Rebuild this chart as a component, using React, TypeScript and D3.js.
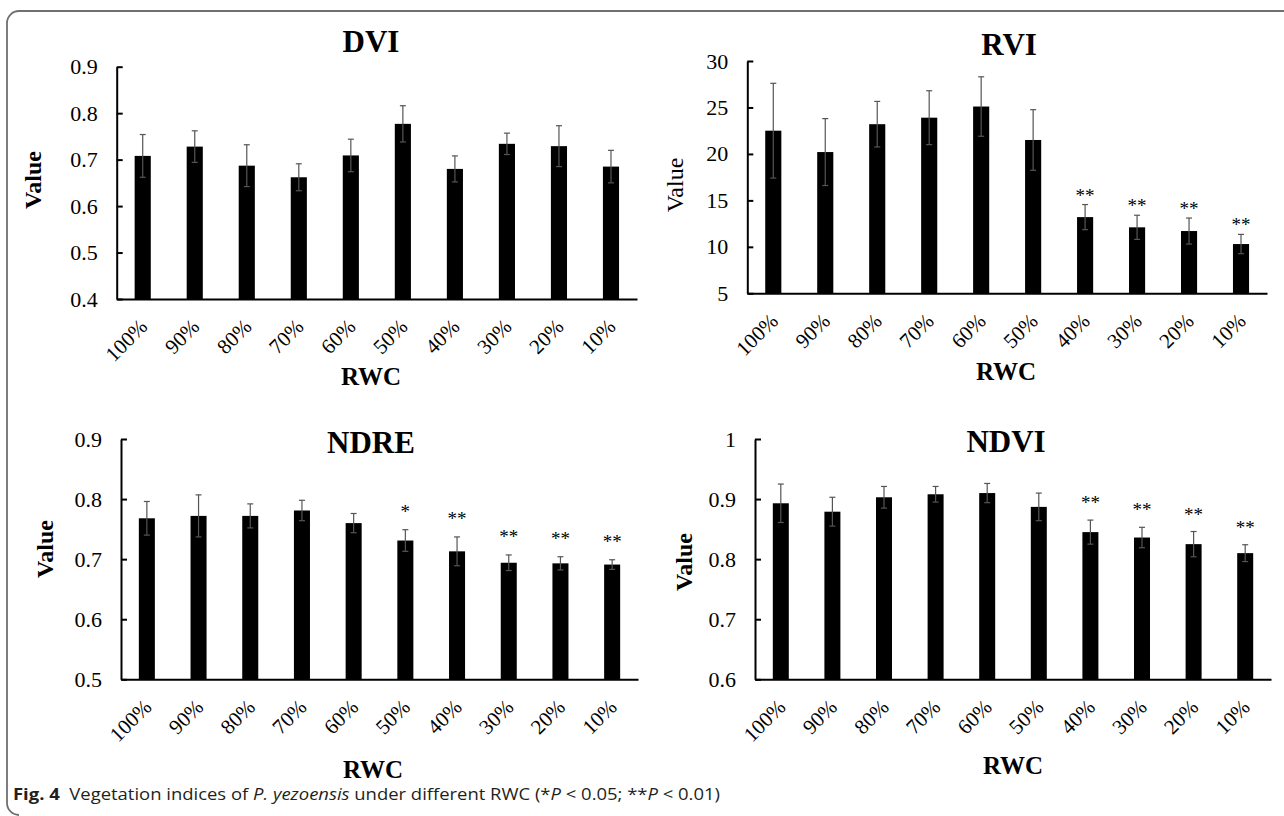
import { useEffect, useRef } from 'react'
import * as d3 from 'd3'

// RWC levels (x categories, shared by all four panels)
const CATEGORIES = ['100%', '90%', '80%', '70%', '60%', '50%', '40%', '30%', '20%', '10%']

// DVI
const DVI_MEAN = [0.708, 0.728, 0.687, 0.662, 0.709, 0.777, 0.680, 0.734, 0.729, 0.685]
const DVI_SE = [0.046, 0.034, 0.045, 0.029, 0.035, 0.039, 0.028, 0.023, 0.044, 0.035]
const DVI_SIG = ['', '', '', '', '', '', '', '', '', '']
const DVI_TICKS = [0.4, 0.5, 0.6, 0.7, 0.8, 0.9]

// RVI
const RVI_MEAN = [22.5, 20.2, 23.2, 23.9, 25.1, 21.5, 13.2, 12.1, 11.7, 10.3]
const RVI_SE = [5.1, 3.6, 2.45, 2.9, 3.2, 3.26, 1.35, 1.3, 1.4, 1.04]
const RVI_SIG = ['', '', '', '', '', '', '**', '**', '**', '**']
const RVI_TICKS = [5, 10, 15, 20, 25, 30]

// NDRE
const NDRE_MEAN = [0.768, 0.772, 0.772, 0.781, 0.760, 0.731, 0.713, 0.694, 0.693, 0.691]
const NDRE_SE = [0.028, 0.035, 0.020, 0.017, 0.016, 0.018, 0.024, 0.013, 0.011, 0.008]
const NDRE_SIG = ['', '', '', '', '', '*', '**', '**', '**', '**']
const NDRE_TICKS = [0.5, 0.6, 0.7, 0.8, 0.9]

// NDVI
const NDVI_MEAN = [0.893, 0.879, 0.903, 0.908, 0.910, 0.887, 0.845, 0.836, 0.825, 0.810]
const NDVI_SE = [0.032, 0.024, 0.018, 0.013, 0.016, 0.023, 0.020, 0.017, 0.021, 0.014]
const NDVI_SIG = ['', '', '', '', '', '', '**', '**', '**', '**']
const NDVI_TICKS = [0.6, 0.7, 0.8, 0.9, 1]

const W = 1284
const H = 816
const SERIF = '"Liberation Serif", "Times New Roman", serif'
const SANS = '"Open Sans", "Noto Sans", sans-serif'

// panel layout (plot box, label placement)
const PANELS = [
  {
    title: 'DVI', mean: DVI_MEAN, se: DVI_SE, sig: DVI_SIG, ticks: DVI_TICKS,
    left: 116.7, right: 637, top: 66.7, bottom: 299,
    titleX: 371, titleY: 52, valueX: 33, valueY: 180, valueBold: true,
    rwcX: 371, rwcY: 385, starGap: 12,
  },
  {
    title: 'RVI', mean: RVI_MEAN, se: RVI_SE, sig: RVI_SIG, ticks: RVI_TICKS,
    left: 747.3, right: 1267, top: 61, bottom: 293.3,
    titleX: 1009, titleY: 55, valueX: 675, valueY: 185, valueBold: false,
    rwcX: 1006, rwcY: 380, starGap: 3,
  },
  {
    title: 'NDRE', mean: NDRE_MEAN, se: NDRE_SE, sig: NDRE_SIG, ticks: NDRE_TICKS,
    left: 121, right: 638, top: 439, bottom: 679.3,
    titleX: 371, titleY: 453, valueX: 45, valueY: 549, valueBold: true,
    rwcX: 373, rwcY: 778, starGap: 12,
  },
  {
    title: 'NDVI', mean: NDVI_MEAN, se: NDVI_SE, sig: NDVI_SIG, ticks: NDVI_TICKS,
    left: 755, right: 1271, top: 439, bottom: 679.3,
    titleX: 1006, titleY: 452, valueX: 684, valueY: 562, valueBold: true,
    rwcX: 1013, rwcY: 774, starGap: 11,
  },
]

export default function App() {
  const svgRef = useRef<SVGSVGElement | null>(null)

  useEffect(() => {
    if (!svgRef.current) return
    const svg = d3.select(svgRef.current)
    svg.selectAll('*').remove()

    // frame around the figure (open on the right)
    const r = 12
    svg.append('path')
      .attr('d', `M${W},11 H${7 + r} A${r},${r} 0 0 0 7,${11 + r} V${815 - r} A${r},${r} 0 0 0 ${7 + r},815`)
      .attr('fill', 'none')
      .attr('stroke', '#707070')
      .attr('stroke-width', 1.8)

    PANELS.forEach(p => {
      const g = svg.append('g')
      const rows = CATEGORIES.map((cat, i) => ({ cat, mean: p.mean[i], se: p.se[i], sig: p.sig[i] }))

      const x = d3.scaleBand<string>()
        .domain(CATEGORIES)
        .range([p.left, p.right])
        .paddingInner(0.69)
        .paddingOuter(0.345)

      const y = d3.scaleLinear()
        .domain(d3.extent(p.ticks) as [number, number])
        .range([p.bottom, p.top])

      const base = y.domain()[0]
      const cx = (d: { cat: string }) => (x(d.cat) as number) + x.bandwidth() / 2

      // bars
      g.selectAll('rect.bar')
        .data(rows)
        .join('rect')
        .attr('class', 'bar')
        .attr('x', d => x(d.cat) as number)
        .attr('y', d => y(d.mean))
        .attr('width', x.bandwidth())
        .attr('height', d => y(base) - y(d.mean))
        .attr('fill', '#000')

      // error bars
      const eb = g.selectAll('g.err')
        .data(rows)
        .join('g')
        .attr('class', 'err')
        .attr('stroke', '#555')
        .attr('stroke-width', 1.2)

      eb.append('line')
        .attr('x1', cx).attr('x2', cx)
        .attr('y1', d => y(d.mean + d.se))
        .attr('y2', d => y(d.mean - d.se))
      eb.append('line')
        .attr('x1', d => cx(d) - 3).attr('x2', d => cx(d) + 3)
        .attr('y1', d => y(d.mean + d.se)).attr('y2', d => y(d.mean + d.se))
      eb.append('line')
        .attr('x1', d => cx(d) - 3).attr('x2', d => cx(d) + 3)
        .attr('y1', d => y(d.mean - d.se)).attr('y2', d => y(d.mean - d.se))

      // significance marks
      g.selectAll('text.sig')
        .data(rows.filter(d => d.sig))
        .join('text')
        .attr('class', 'sig')
        .attr('x', cx)
        .attr('y', d => y(d.mean + d.se) - p.starGap)
        .attr('text-anchor', 'middle')
        .attr('font-family', SERIF)
        .attr('font-size', 19)
        .attr('fill', '#000')
        .text(d => d.sig)

      // y axis, inside ticks
      const yAxis = g.append('g')
        .attr('transform', `translate(${p.left},0)`)
        .call(d3.axisLeft(y)
          .tickValues(p.ticks)
          .tickFormat(d3.format('~g'))
          .tickSizeInner(-6)
          .tickSizeOuter(0)
          .tickPadding(19))
      yAxis.attr('font-family', SERIF).attr('font-size', 22)
      yAxis.selectAll('text').attr('fill', '#000')
      yAxis.selectAll('.tick line').attr('stroke', '#000').attr('stroke-width', 2)
      yAxis.select('.domain').attr('stroke', '#000').attr('stroke-width', 2)

      // x axis with rotated labels
      const xAxis = g.append('g')
        .attr('transform', `translate(0,${p.bottom})`)
        .call(d3.axisBottom(x).tickSize(0).tickSizeOuter(0))
      xAxis.attr('font-family', SERIF).attr('font-size', 21)
      xAxis.select('.domain').attr('stroke', '#000').attr('stroke-width', 2)
      xAxis.selectAll('text')
        .attr('x', 0).attr('y', 0).attr('dy', 0)
        .attr('text-anchor', 'end')
        .attr('fill', '#000')
        .attr('transform', 'translate(6,29) rotate(-45)')

      // titles and axis labels
      g.append('text')
        .attr('x', p.titleX).attr('y', p.titleY)
        .attr('text-anchor', 'middle')
        .attr('font-family', SERIF).attr('font-weight', 'bold').attr('font-size', 31)
        .text(p.title)

      g.append('text')
        .attr('transform', `translate(${p.valueX},${p.valueY}) rotate(-90)`)
        .attr('dy', '0.35em')
        .attr('text-anchor', 'middle')
        .attr('font-family', SERIF)
        .attr('font-weight', p.valueBold ? 'bold' : 'normal')
        .attr('font-size', 24)
        .text('Value')

      g.append('text')
        .attr('x', p.rwcX).attr('y', p.rwcY)
        .attr('text-anchor', 'middle')
        .attr('font-family', SERIF).attr('font-weight', 'bold').attr('font-size', 25)
        .text('RWC')
    })

    // caption
    const cap = svg.append('text')
      .attr('x', 13).attr('y', 800)
      .attr('font-family', SANS).attr('font-size', 16)
      .attr('fill', '#231f20')
      .attr('textLength', 707)
      .attr('lengthAdjust', 'spacingAndGlyphs')
    const parts: [string, string][] = [
      ['Fig. 4', 'bold'],
      ['\u00a0\u00a0Vegetation indices of ', 'normal'],
      ['P. yezoensis', 'italic'],
      [' under different RWC (*', 'normal'],
      ['P', 'italic'],
      [' < 0.05; **', 'normal'],
      ['P', 'italic'],
      [' < 0.01)', 'normal'],
    ]
    parts.forEach(([t, s]) => {
      cap.append('tspan')
        .attr('font-weight', s === 'bold' ? 'bold' : 'normal')
        .attr('font-style', s === 'italic' ? 'italic' : 'normal')
        .text(t)
    })
  }, [])

  return (
    <svg
      ref={svgRef}
      width={W}
      height={H}
      style={{ position: 'absolute', left: 0, top: 0, background: '#fff' }}
    />
  )
}
